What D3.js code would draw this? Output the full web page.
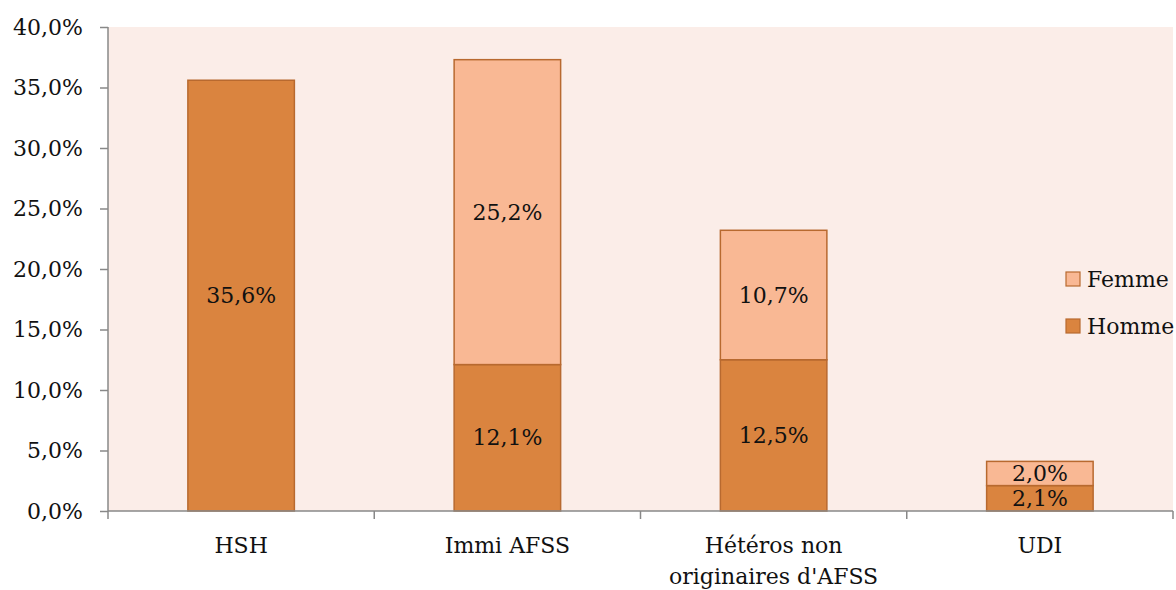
<!DOCTYPE html>
<html><head><meta charset="utf-8">
<script src="https://cdn.jsdelivr.net/npm/d3@7"></script>
<style>body{margin:0;background:#fff;} svg{display:block;} text{font-family:"DejaVu Serif",serif;}</style>
</head><body>
<svg id="c" width="1176" height="590"></svg>
<script>
const categories = [["HSH"], ["Immi AFSS"], ["Hétéros non", "originaires d'AFSS"], ["UDI"]];
const homme = [35.6, 12.1, 12.5, 2.1];
const femme = [0, 25.2, 10.7, 2.0];
const yTicks = [0, 5, 10, 15, 20, 25, 30, 35, 40];
const seriesNames = ["Femme", "Homme"];

const svg = d3.select("#c");
const L = 108, R = 1173, T = 27, B = 511;
const fs = 22;
const ink = "#111";
const x = d3.scaleBand().domain(d3.range(categories.length)).range([L, R]).paddingInner(0.6).paddingOuter(0.3);
const y = d3.scaleLinear().domain([0, 40]).range([B, T]);
const fmt = v => d3.format(".1f")(v).replace(".", ",") + "%";

svg.append("rect").attr("x", L).attr("y", T).attr("width", R - L).attr("height", B - T).attr("fill", "#FBEDE8");

const colH = "#DA843F", colF = "#F9B894", stroke = "#B8692F";
const data = categories.map((c, i) => ({i, h: homme[i], f: femme[i]}));

// bars
data.forEach(d => {
  svg.append("rect").attr("x", x(d.i)).attr("width", x.bandwidth())
    .attr("y", y(d.h)).attr("height", y(0) - y(d.h))
    .attr("fill", colH).attr("stroke", stroke).attr("stroke-width", 1.5);
  if (d.f > 0) {
    svg.append("rect").attr("x", x(d.i)).attr("width", x.bandwidth())
      .attr("y", y(d.h + d.f)).attr("height", y(d.h) - y(d.h + d.f))
      .attr("fill", colF).attr("stroke", stroke).attr("stroke-width", 1.5);
  }
});
// labels
data.forEach(d => {
  const cx = x(d.i) + x.bandwidth() / 2;
  svg.append("text").attr("x", cx).attr("y", y(d.h / 2)).attr("dy", "0.35em")
    .attr("text-anchor", "middle").attr("font-size", fs).attr("fill", ink).text(fmt(d.h));
  if (d.f > 0) svg.append("text").attr("x", cx).attr("y", y(d.h + d.f / 2)).attr("dy", "0.35em")
    .attr("text-anchor", "middle").attr("font-size", fs).attr("fill", ink).text(fmt(d.f));
});

// y axis
const yAxis = svg.append("g").attr("transform", `translate(${L},0)`)
  .call(d3.axisLeft(y).tickValues(yTicks).tickSize(8).tickPadding(17).tickFormat(fmt));
yAxis.selectAll("path,line").attr("stroke", "#888").attr("stroke-width", 1.5);
yAxis.select(".domain").attr("d", `M0,${T}V${B}`);
yAxis.selectAll("text").attr("font-size", fs).attr("fill", ink).attr("font-family", "DejaVu Serif");

// x axis
const xa = svg.append("g").attr("transform", `translate(0,${B})`);
xa.append("line").attr("x1", L).attr("x2", R).attr("stroke", "#888").attr("stroke-width", 1.5);
d3.range(categories.length + 1).forEach(k => {
  const xx = L + k * (R - L) / categories.length;
  xa.append("line").attr("x1", xx).attr("x2", xx).attr("y1", 0).attr("y2", 8).attr("stroke", "#888").attr("stroke-width", 1.5);
});
data.forEach(d => {
  const t = xa.append("text").attr("x", x(d.i) + x.bandwidth() / 2).attr("y", 42)
    .attr("text-anchor", "middle").attr("font-size", fs).attr("fill", ink);
  categories[d.i].forEach((line, j) => t.append("tspan").attr("x", x(d.i) + x.bandwidth() / 2).attr("dy", j ? 31 : 0).text(line));
});

// legend
const lg = svg.append("g");
[[seriesNames[0], colF, 279], [seriesNames[1], colH, 326]].forEach(([n, c, yy]) => {
  lg.append("rect").attr("x", 1066).attr("y", yy - 7).attr("width", 14).attr("height", 14).attr("fill", c).attr("stroke", stroke).attr("stroke-width", 1.2);
  lg.append("text").attr("x", 1087).attr("y", yy).attr("dy", "0.35em").attr("font-size", fs).attr("fill", ink).text(n);
});
</script>
</body></html>
